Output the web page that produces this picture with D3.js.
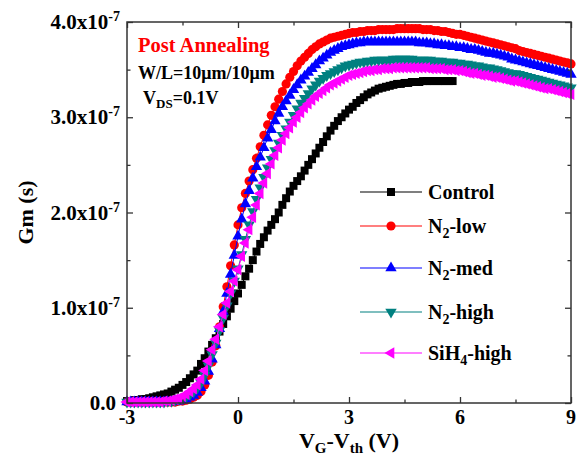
<!DOCTYPE html>
<html><head><meta charset="utf-8">
<script src="https://cdn.jsdelivr.net/npm/d3@7"></script>
<style>
html,body{margin:0;padding:0;background:#fff;}
svg{display:block;font-family:"Liberation Serif","Times New Roman",serif;font-weight:bold;}
</style></head>
<body><svg id="chart" width="580" height="461"></svg>
<script>
// ---- data (Gm in units of 1e-7 S) ----
const vStart = -3.0, vStep = 0.1;
const controlGm = [
0.02,0.02,0.03,0.03,0.04,0.04,0.05,0.06,0.07,0.08,
0.09,0.10,0.12,0.14,0.16,0.19,0.22,0.26,0.30,0.34,
0.41,0.47,0.54,0.61,0.68,0.75,0.83,0.91,0.99,1.07,
1.15,1.24,1.33,1.41,1.50,1.59,1.67,1.74,1.81,1.87,
1.93,2.00,2.08,2.15,2.22,2.28,2.33,2.38,2.44,2.50,
2.56,2.62,2.68,2.74,2.80,2.86,2.91,2.96,3.00,3.04,
3.08,3.11,3.15,3.18,3.21,3.24,3.26,3.28,3.30,3.31,
3.32,3.33,3.34,3.35,3.35,3.36,3.36,3.37,3.37,3.37,
3.38,3.38,3.38,3.38,3.38,3.38,3.38,3.38,3.38];
const n2LowGm = [
0.01,0.01,0.01,0.01,0.01,0.01,0.01,0.01,0.01,0.01,
0.01,0.01,0.01,0.01,0.02,0.02,0.03,0.04,0.06,0.08,
0.12,0.19,0.29,0.43,0.60,0.80,1.01,1.22,1.44,1.66,
1.87,2.05,2.20,2.33,2.45,2.57,2.69,2.81,2.92,3.02,
3.11,3.19,3.27,3.35,3.42,3.48,3.54,3.59,3.63,3.67,
3.71,3.74,3.77,3.79,3.81,3.83,3.84,3.85,3.86,3.87,
3.88,3.89,3.89,3.90,3.90,3.91,3.91,3.91,3.92,3.92,
3.92,3.92,3.92,3.93,3.93,3.93,3.93,3.93,3.93,3.93,
3.92,3.92,3.92,3.91,3.91,3.90,3.90,3.89,3.88,3.87,
3.87,3.86,3.85,3.84,3.83,3.82,3.81,3.80,3.79,3.78,
3.77,3.76,3.75,3.74,3.73,3.72,3.70,3.69,3.68,3.67,
3.66,3.65,3.64,3.63,3.62,3.61,3.60,3.59,3.58,3.57,
3.56];
const n2MedGm = [
0.01,0.01,0.01,0.01,0.01,0.01,0.01,0.01,0.01,0.01,
0.01,0.01,0.01,0.02,0.02,0.03,0.04,0.06,0.08,0.11,
0.16,0.23,0.33,0.46,0.61,0.78,0.96,1.15,1.35,1.55,
1.75,1.93,2.09,2.23,2.36,2.48,2.58,2.68,2.78,2.87,
2.96,3.04,3.11,3.17,3.23,3.29,3.34,3.39,3.43,3.47,
3.51,3.55,3.59,3.62,3.65,3.68,3.70,3.72,3.74,3.75,
3.76,3.77,3.78,3.78,3.79,3.79,3.79,3.79,3.79,3.79,
3.79,3.79,3.79,3.79,3.79,3.79,3.79,3.79,3.79,3.78,
3.78,3.78,3.77,3.77,3.76,3.76,3.75,3.75,3.74,3.74,
3.73,3.73,3.72,3.71,3.71,3.70,3.69,3.68,3.67,3.67,
3.66,3.65,3.64,3.63,3.61,3.60,3.59,3.58,3.57,3.56,
3.55,3.54,3.53,3.52,3.51,3.50,3.49,3.48,3.47,3.46,
3.45];
const n2HighGm = [
0.01,0.01,0.01,0.01,0.01,0.01,0.01,0.01,0.01,0.01,
0.01,0.02,0.02,0.03,0.04,0.05,0.07,0.09,0.12,0.16,
0.21,0.29,0.39,0.51,0.63,0.76,0.89,1.02,1.15,1.28,
1.41,1.56,1.72,1.87,2.01,2.14,2.26,2.37,2.47,2.56,
2.65,2.73,2.81,2.88,2.95,3.02,3.09,3.15,3.20,3.25,
3.30,3.34,3.38,3.41,3.44,3.46,3.48,3.50,3.52,3.54,
3.55,3.56,3.57,3.58,3.58,3.59,3.59,3.60,3.60,3.60,
3.60,3.60,3.61,3.61,3.61,3.61,3.61,3.61,3.60,3.60,
3.60,3.60,3.60,3.59,3.59,3.59,3.58,3.58,3.58,3.57,
3.57,3.56,3.56,3.55,3.54,3.54,3.53,3.52,3.52,3.51,
3.50,3.49,3.48,3.47,3.46,3.46,3.45,3.44,3.43,3.42,
3.41,3.40,3.39,3.38,3.37,3.36,3.35,3.34,3.33,3.32,
3.31];
const siH4HighGm = [
0.01,0.01,0.01,0.01,0.01,0.01,0.01,0.01,0.01,0.01,
0.02,0.02,0.03,0.04,0.05,0.07,0.09,0.12,0.15,0.19,
0.25,0.34,0.44,0.56,0.67,0.80,0.93,1.05,1.17,1.28,
1.40,1.54,1.68,1.82,1.95,2.08,2.20,2.31,2.41,2.51,
2.60,2.68,2.76,2.83,2.89,2.95,3.00,3.05,3.10,3.14,
3.18,3.22,3.25,3.28,3.31,3.34,3.36,3.38,3.40,3.42,
3.44,3.45,3.46,3.47,3.48,3.49,3.49,3.50,3.50,3.51,
3.51,3.51,3.52,3.52,3.52,3.52,3.52,3.52,3.52,3.52,
3.52,3.52,3.51,3.51,3.51,3.51,3.50,3.50,3.50,3.49,
3.49,3.48,3.47,3.46,3.46,3.45,3.44,3.44,3.43,3.42,
3.42,3.41,3.40,3.39,3.38,3.38,3.37,3.36,3.35,3.34,
3.33,3.32,3.31,3.30,3.30,3.29,3.28,3.27,3.26,3.25,
3.24];
const seriesNames = ["Control","N2-low","N2-med","N2-high","SiH4-high"];
const xTicks = [-3,0,3,6,9];
const xMinorTicks = [-1.5,1.5,4.5,7.5];
const yTicks = [0,1,2,3,4];
const yMinorTicks = [0.5,1.5,2.5,3.5];
const yTickLabels = ["0.0","1.0x10","2.0x10","3.0x10","4.0x10"];
const yTickExp = ["","-7","-7","-7","-7"];

// ---- layout ----
const svg = d3.select("#chart");
const L=127, R=571, T=22, B=403;
const x = d3.scaleLinear().domain([-3,9]).range([L,R]);
const y = d3.scaleLinear().domain([0,4]).range([B,T]);

const series = [
 {name:"Control", vals:controlGm, color:"#000000", sym:d3.symbolSquare, size:64, rot:0},
 {name:"N2-low", vals:n2LowGm, color:"#ff0000", sym:d3.symbolCircle, size:66, rot:0},
 {name:"N2-med", vals:n2MedGm, color:"#0000ff", sym:d3.symbolTriangle, size:56, rot:0},
 {name:"N2-high", vals:n2HighGm, color:"#008080", sym:d3.symbolTriangle, size:56, rot:180},
 {name:"SiH4-high", vals:siH4HighGm, color:"#ff00ff", sym:d3.symbolTriangle, size:56, rot:-90}
];

const line = d3.line().x(d=>x(d[0])).y(d=>y(d[1]));
series.forEach(s=>{
  const pts = s.vals.map((v,i)=>[+(vStart+i*vStep).toFixed(2), v]);
  const g = svg.append("g");
  g.append("path").attr("d",line(pts)).attr("fill","none").attr("stroke",s.color).attr("stroke-width",1);
  const sym = d3.symbol().type(s.sym).size(s.size);
  g.selectAll("path.m").data(pts).join("path").attr("class","m")
   .attr("d",sym)
   .attr("transform",d=>`translate(${x(d[0])},${y(d[1])}) rotate(${s.rot})`)
   .attr("fill",s.color);
});

// ---- axes (ticks inward, mirrored) ----
function ax(gen, tx, ty, vals, len){
  svg.append("g").attr("transform",`translate(${tx},${ty})`)
   .call(gen.tickValues(vals).tickSize(-len).tickFormat(""))
   .call(g=>{g.select(".domain").remove(); g.selectAll("line").attr("stroke","#333").attr("stroke-width",1.3);});
}
ax(d3.axisBottom(x),0,B,xTicks,6); ax(d3.axisBottom(x),0,B,xMinorTicks,3.5);
ax(d3.axisTop(x),0,T,xTicks,6); ax(d3.axisTop(x),0,T,xMinorTicks,3.5);
ax(d3.axisLeft(y),L,0,yTicks,6); ax(d3.axisLeft(y),L,0,yMinorTicks,3.5);
ax(d3.axisRight(y),R,0,yTicks,6); ax(d3.axisRight(y),R,0,yMinorTicks,3.5);
svg.append("rect").attr("x",L).attr("y",T).attr("width",R-L).attr("height",B-T)
  .attr("fill","none").attr("stroke","#333").attr("stroke-width",1.5);

// tick labels
xTicks.forEach(t=>{
  svg.append("text").attr("x",x(t)).attr("y",B+21).attr("text-anchor","middle")
   .attr("font-size",20).text(t);
});
yTicks.forEach((t,i)=>{
  const tx = svg.append("text").attr("x",i===0?116:120).attr("y",y(t)+7).attr("text-anchor","end").attr("font-size",21);
  tx.append("tspan").text(yTickLabels[i]);
  if (yTickExp[i]) tx.append("tspan").attr("font-size",14).attr("dy",-8).text(yTickExp[i]);
});

// axis titles
const xt = svg.append("text").attr("x",(L+R)/2).attr("y",448).attr("text-anchor","middle").attr("font-size",22);
xt.append("tspan").text("V");
xt.append("tspan").attr("font-size",15).attr("dy",5).text("G");
xt.append("tspan").attr("dy",-5).text("-V");
xt.append("tspan").attr("font-size",15).attr("dy",5).text("th");
xt.append("tspan").attr("dy",-5).text(" (V)");
svg.append("text").attr("transform",`translate(33,${(T+B)/2}) rotate(-90)`).attr("text-anchor","middle")
  .attr("font-size",22).text("Gm (s)");

// annotations
svg.append("text").attr("x",138).attr("y",52).attr("fill","#ff0000").attr("font-size",20.5).text("Post Annealing");
svg.append("text").attr("x",138).attr("y",79).attr("font-size",18).text("W/L=10\u03bcm/10\u03bcm");
const vd = svg.append("text").attr("x",143).attr("y",104).attr("font-size",18);
vd.append("tspan").text("V");
vd.append("tspan").attr("font-size",13).attr("dy",4).text("DS");
vd.append("tspan").attr("dy",-4).text("=0.1V");

// legend
const legY = [192,226,268,312,353];
series.forEach((s,i)=>{
  const ly = legY[i];
  svg.append("line").attr("x1",360).attr("x2",422).attr("y1",ly).attr("y2",ly).attr("stroke",s.color).attr("stroke-width",1.2);
  svg.append("path").attr("d",d3.symbol().type(s.sym).size(s.size)).attr("transform",`translate(391,${ly}) rotate(${s.rot})`).attr("fill",s.color);
  const t = svg.append("text").attr("x",428).attr("y",ly+7).attr("font-size",20);
  const nm = seriesNames[i];
  const m = nm.match(/^([A-Za-z]+?)(\d)(.*)$/);
  if (m && nm!=="Control"){
    t.append("tspan").text(m[1]);
    t.append("tspan").attr("font-size",14).attr("dy",5).text(m[2]);
    t.append("tspan").attr("dy",-5).text(m[3]);
  } else t.text(nm);
});
</script></body></html>
